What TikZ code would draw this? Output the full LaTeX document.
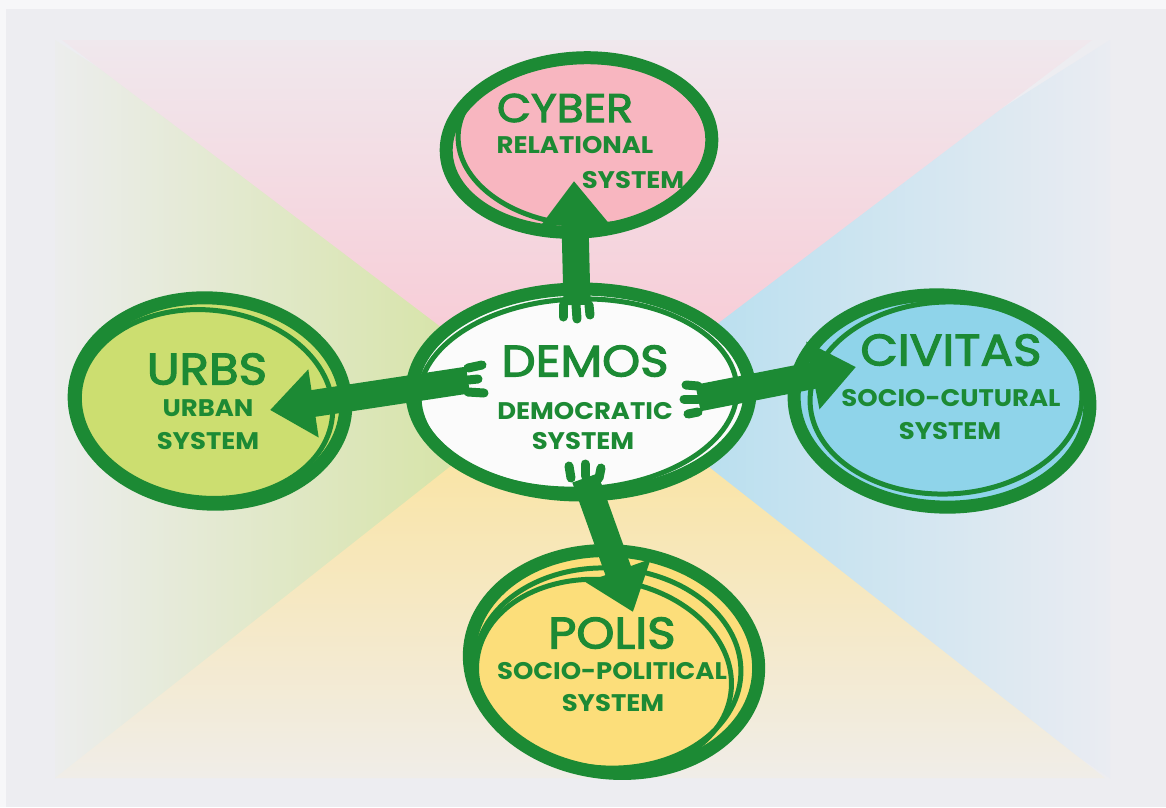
\documentclass[tikz,border=0pt]{standalone}
\usepackage{fontspec}
\setmainfont{Poppins}
\newfontfamily\titlefont[FakeBold=2.8, FakeStretch=1.1]{Poppins}
\newfontfamily\subfont[FakeStretch=1.08]{Poppins}
\usetikzlibrary{shapes.geometric,arrows.meta}
\definecolor{grn}{RGB}{28,138,52}
\definecolor{bgc}{RGB}{237,237,241}
\definecolor{bgl}{RGB}{247,247,249}
\definecolor{pinkS}{RGB}{250,196,208}
\definecolor{pinkP}{RGB}{240,232,237}
\definecolor{blueS}{RGB}{166,218,238}
\definecolor{blueP}{RGB}{234,236,242}
\definecolor{yelS}{RGB}{253,226,146}
\definecolor{yelP}{RGB}{240,237,232}
\definecolor{grnS}{RGB}{206,224,140}
\definecolor{grnP}{RGB}{236,237,237}
\definecolor{cyberF}{RGB}{248,182,192}
\definecolor{demosF}{RGB}{251,251,251}
\definecolor{urbsF}{RGB}{204,222,112}
\definecolor{civF}{RGB}{143,212,234}
\definecolor{polisF}{RGB}{252,222,122}
\tikzset{
  blob/.style={ellipse, inner sep=0pt, draw=grn, line width=13pt},
  ringb/.style={draw=grn, line width=5pt},
  title/.style={text=grn, inner sep=0pt, font=\titlefont\fontsize{44}{44}\selectfont},
  subt/.style={text=grn, inner sep=0pt, font=\subfont\fontsize{24}{24}\selectfont\bfseries},
  bigarrow/.style={draw=grn, line width=27pt, -{Triangle[length=44pt, width=66pt]}},
  finger/.style={draw=grn, line width=9pt, line cap=round}
}
\begin{document}
\begin{tikzpicture}[x=1pt,y=-1pt]
\useasboundingbox (0,0) rectangle (1166,807);
% background
\fill[bgl] (0,0) rectangle (1166,807);
\fill[bgc] (6,9) rectangle (1166,807);
\shade[left color=grnP, right color=grnS] (55,40) -- (55,778) -- (620,400) -- cycle;
\shade[left color=blueS, right color=blueP] (1110,40) -- (1110,778) -- (540,400) -- cycle;
\shade[top color=pinkP, bottom color=pinkS] (62,40) -- (1092,40) -- (577,430) -- cycle;
\shade[top color=yelS, bottom color=yelP] (55,778) -- (1105,778) -- (579,365) -- cycle;
% ellipses
\node[blob, fill=cyberF, minimum width=266pt, minimum height=174pt, rotate=4] (cyber) at (579,145) {};
\draw[ringb] (584,141) ellipse [x radius=126, y radius=84, rotate=-3];

\node[blob, fill=demosF, minimum width=338pt, minimum height=206pt] (demos) at (581,392) {};
\draw[ringb] (578,394) ellipse [x radius=159, y radius=95, rotate=2];

\node[blob, fill=urbsF, minimum width=272pt, minimum height=206pt, rotate=-4] (urbs) at (210,401) {};
\draw[ringb] (206,404) ellipse [x radius=127, y radius=94, rotate=-6];

\node[blob, fill=civF, minimum width=296pt, minimum height=212pt, rotate=-3] (civitas) at (942,401) {};
\draw[ringb] (946,398) ellipse [x radius=136, y radius=96, rotate=2];

\node[blob, fill=polisF, minimum width=290pt, minimum height=222pt, rotate=-6] (polis) at (614,662) {};
\draw[ringb] (608,668) ellipse [x radius=133, y radius=100, rotate=-3];
\draw[ringb] (604,676) ellipse [x radius=128, y radius=96, rotate=-8];
% arrow ends
\coordinate (upT) at (577,305);
\coordinate (upH) at (574,181);
\coordinate (lfT) at (468,380);
\coordinate (lfH) at (270,410);
\coordinate (rtT) at (698,398);
\coordinate (rtH) at (856,367);
\coordinate (dnT) at (585,478);
\coordinate (dnH) at (633,612);
\draw[bigarrow] (upT) -- (upH);
\draw[bigarrow] (lfT) -- (lfH);
\draw[bigarrow] (rtT) -- (rtH);
\draw[bigarrow] (dnT) -- (dnH);
% fingers
\draw[finger] (upT) ++(-14,0) -- ++(0,12);
\draw[finger] (upT) ++(-1,0) -- ++(1,14);
\draw[finger] (upT) ++(12,0) -- ++(1,10);
\draw[finger] (lfT) ++(0,-12) -- ++(14,-3);
\draw[finger] (lfT) ++(0,0) -- ++(10,-1);
\draw[finger] (lfT) ++(0,12) -- ++(16,1);
\draw[finger] (rtT) ++(0,-12) -- ++(-12,-1);
\draw[finger] (rtT) ++(0,1) -- ++(-14,0);
\draw[finger] (rtT) ++(0,14) -- ++(-10,2);
\draw[finger] (dnT) ++(-14,0) -- ++(-2,-12);
\draw[finger] (dnT) ++(0,-2) -- ++(0,-12);
\draw[finger] (dnT) ++(14,0) -- ++(2,-10);
% texts
\node[title, font=\titlefont\fontsize{40}{40}\selectfont] (cyT) at (565,108) {CYBER};
\node[subt] (cyS1) at (575,145) {RELATIONAL};
\node[subt] (cyS2) at (633,180) {SYSTEM};

\node[title] (deT) at (585,361) {DEMOS};
\node[subt] (deS1) at (585,411) {DEMOCRATIC};
\node[subt] (deS2) at (583,441) {SYSTEM};

\node[title] (urT) at (207,369) {URBS};
\node[subt] (urS1) at (208,408) {URBAN};
\node[subt] (urS2) at (208,441) {SYSTEM};

\node[title] (ciT) at (951,350) {CIVITAS};
\node[subt] (ciS1) at (951,398) {SOCIO-CUTURAL};
\node[subt] (ciS2) at (950,431) {SYSTEM};

\node[title] (poT) at (612,633) {POLIS};
\node[subt] (poS1) at (612,671) {SOCIO-POLITICAL};
\node[subt] (poS2) at (613,703) {SYSTEM};
\end{tikzpicture}
\end{document}
